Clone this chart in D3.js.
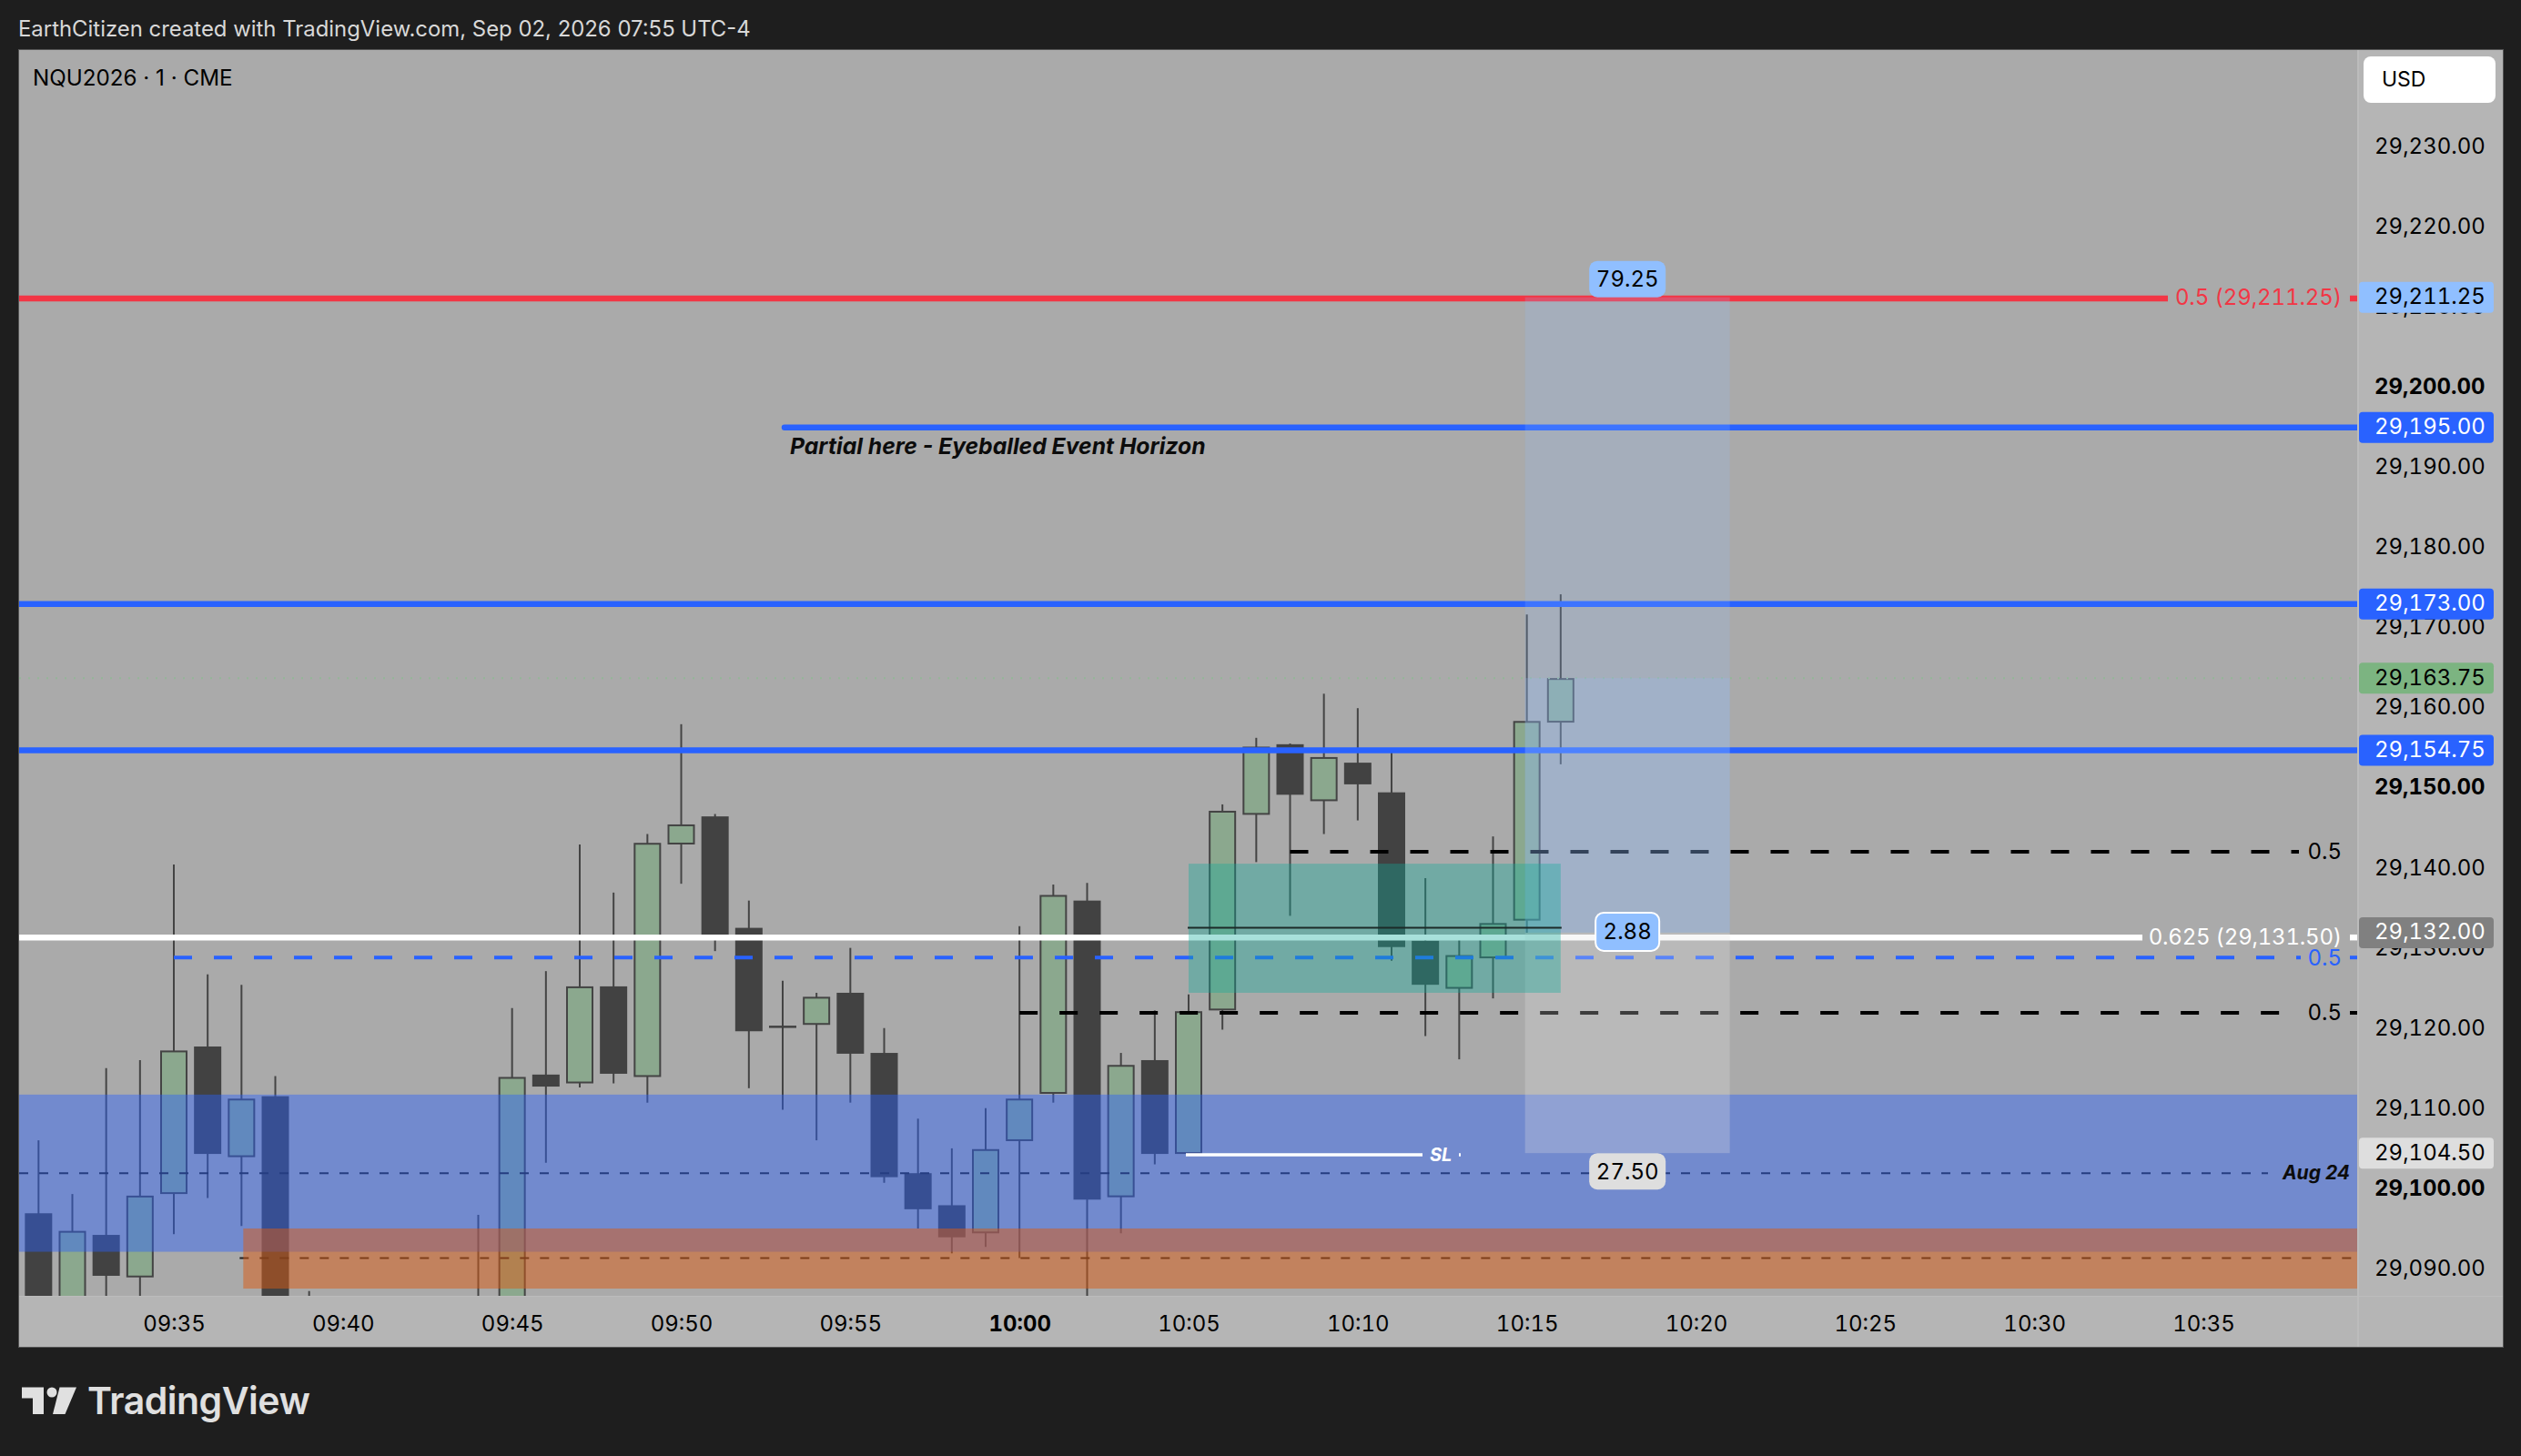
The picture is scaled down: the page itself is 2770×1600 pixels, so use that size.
<!DOCTYPE html>
<html>
<head>
<meta charset="utf-8">
<script src="https://d3js.org/d3.v7.min.js"></script>
<style>
    html, body { margin: 0; padding: 0; background: #1e1e1e; }
    svg { display: block; }
    text { font-family: Inter, "Noto Sans", sans-serif; }
    .axis text, .tag text, .num { font-variant-numeric: tabular-nums; }
</style>
</head>
<body>
<div id="chart"></div>
<script>
// 1 minute bars. 09:40 - 09:43 sit completely below the visible pane so they are left out
var bar_times = ["09:31", "09:32", "09:33", "09:34", "09:35", "09:36", "09:37", "09:38", "09:39",
    "09:44", "09:45", "09:46", "09:47", "09:48", "09:49", "09:50", "09:51", "09:52", "09:53", "09:54",
    "09:55", "09:56", "09:57", "09:58", "09:59", "10:00", "10:01", "10:02", "10:03", "10:04", "10:05",
    "10:06", "10:07", "10:08", "10:09", "10:10", "10:11", "10:12", "10:13", "10:14", "10:15", "10:16"];
var bar_open = [29097.0, 29084.0, 29094.3, 29089.0, 29099.4, 29117.8, 29104.0, 29111.6, 29084.0,
    29084.0, 29084.0, 29114.3, 29113.2, 29125.3, 29114.0, 29143.0, 29146.5, 29132.6, 29120.4, 29120.5,
    29124.5, 29117.0, 29102.0, 29098.0, 29094.5, 29106.0, 29111.9, 29136.0, 29099.0, 29116.1, 29104.4,
    29122.3, 29146.7, 29155.5, 29148.4, 29153.2, 29149.5, 29131.0, 29125.0, 29128.8, 29133.5, 29158.2];
var bar_high = [29106.1, 29099.4, 29115.1, 29116.1, 29140.5, 29126.8, 29125.5, 29114.1, 29087.3,
    29096.8, 29122.6, 29127.2, 29143.0, 29137.0, 29144.3, 29158.0, 29146.8, 29136.0, 29126.0, 29124.5,
    29130.1, 29120.1, 29108.8, 29105.1, 29110.1, 29132.8, 29138.0, 29138.2, 29117.0, 29122.3, 29124.3,
    29148.0, 29156.3, 29155.6, 29161.8, 29160.0, 29155.0, 29138.8, 29131.1, 29144.0, 29171.7, 29174.2];
var bar_low = [29080.0, 29082.0, 29084.0, 29084.0, 29094.4, 29098.9, 29095.4, 29080.0, 29080.0,
    29080.0, 29082.0, 29103.3, 29112.7, 29113.2, 29110.8, 29138.1, 29129.7, 29112.6, 29109.9, 29106.1,
    29110.8, 29100.8, 29095.1, 29092.0, 29092.8, 29091.4, 29110.8, 29084.0, 29094.5, 29103.1, 29104.4,
    29119.9, 29140.8, 29134.1, 29144.3, 29146.0, 29128.5, 29119.1, 29116.2, 29123.8, 29132.0, 29153.0];
var bar_close = [29082.0, 29094.8, 29089.2, 29099.2, 29117.3, 29104.4, 29111.3, 29082.0, 29082.0,
    29082.0, 29114.0, 29112.8, 29125.3, 29114.4, 29143.2, 29145.5, 29131.2, 29119.7, 29120.2, 29124.0,
    29116.9, 29101.5, 29097.5, 29094.0, 29105.0, 29111.3, 29136.7, 29098.7, 29115.5, 29104.4, 29122.2,
    29147.2, 29155.2, 29149.2, 29153.9, 29150.5, 29130.2, 29125.5, 29129.2, 29133.2, 29158.4, 29163.75];

var price_ticks = [29230, 29220, 29210, 29200, 29190, 29180, 29170, 29160, 29150, 29140, 29130, 29120, 29110, 29100, 29090];
var time_ticks = ["09:35", "09:40", "09:45", "09:50", "09:55", "10:00", "10:05", "10:10", "10:15", "10:20", "10:25", "10:30", "10:35"];

// drawn levels
var solid_blue_levels = [29173, 29154.75];
var partial_level = 29195;
var partial_start = "09:53";
var red_level = 29211.1;
var white_level = 29131.4;
var blue_dash_level = 29128.9;
var blue_dash_start = "09:35";
var black_dash_levels = [29142.1, 29122.0];
var black_dash_starts = ["10:08", "10:00"];
var thin_dash_levels = [29102.0, 29091.4];
var current_price = 29163.75;
var sl_level = 29104.3;
var sl_times = ["10:05", "10:12"];

// zones
var blue_zone = [29111.8, 29092.2];
var orange_zone = [29095.1, 29087.6];
var orange_start = "09:37";
var teal_zone = [29140.6, 29124.5];
var teal_times = ["10:05", "10:16"];
var teal_mid = 29132.6;

// long position tool
var position_prices = [29211.25, 29132, 29104.5];
var position_times = ["10:15", "10:21"];

// price axis tags
var tag_prices = [29211.25, 29195, 29173, 29163.75, 29154.75, 29132, 29104.5];
var tag_fills = ["#90bfff", "#2962ff", "#2962ff", "#7cb481", "#2962ff", "#808080", "#dedede"];
var tag_text = ["#000", "#fff", "#fff", "#000", "#fff", "#fff", "#000"];

var width = 2770, height = 1600;
var pane = {left: 21, top: 55, right: 2590, bottom: 1424, outer_right: 2750, outer_bottom: 1480};
var font_size = 24;

function mins(t) {
    var p = t.split(":");
    return +p[0] * 60 + +p[1];
}

function label_time(m) {
    return d3.format("02")(Math.floor(m / 60)) + ":" + d3.format("02")(m % 60);
}

var x = d3.scaleLinear().domain([mins("09:35"), mins("10:35")]).range([191, 2421]);
var y = d3.scaleLinear().domain([29242.2, 29086.7]).range([54, pane.bottom]);

var svg = d3.select("#chart").append("svg").attr("width", width).attr("height", height);

svg.append("rect").attr("width", width).attr("height", height).attr("fill", "#1e1e1e");

svg.append("text")
    .attr("x", 20).attr("y", 40)
    .attr("fill", "#d8d8d8")
    .style("font-size", "23.9px")
    .text("EarthCitizen created with TradingView.com, Sep 02, 2026 07:55 UTC-4");

// frame, axis strips and pane
svg.append("rect")
    .attr("x", pane.left - 0.5).attr("y", pane.top - 0.5)
    .attr("width", pane.outer_right - pane.left + 1).attr("height", pane.outer_bottom - pane.top + 1)
    .attr("fill", "#b5b5b5").attr("stroke", "#555").attr("stroke-width", 1);
svg.append("rect")
    .attr("x", pane.left).attr("y", pane.top)
    .attr("width", pane.right - pane.left).attr("height", pane.bottom - pane.top)
    .attr("fill", "#aaaaaa");
svg.append("line")
    .attr("x1", pane.right + 1).attr("x2", pane.right + 1)
    .attr("y1", pane.top).attr("y2", pane.outer_bottom)
    .attr("stroke", "#bcbcbc").attr("stroke-width", 2);
svg.append("line")
    .attr("x1", pane.left).attr("x2", pane.outer_right)
    .attr("y1", pane.bottom + 0.5).attr("y2", pane.bottom + 0.5)
    .attr("stroke", "#bcbcbc").attr("stroke-width", 1);

svg.append("clipPath").attr("id", "pane_clip")
    .append("rect")
    .attr("x", pane.left).attr("y", pane.top)
    .attr("width", pane.right - pane.left).attr("height", pane.bottom - pane.top);

var plot = svg.append("g").attr("clip-path", "url(#pane_clip)");

// Candles
var bars = bar_times.map(function(t, i) {
    return {t: mins(t), o: bar_open[i], h: bar_high[i], l: bar_low[i], c: bar_close[i]};
});
var bar_g = plot.selectAll(".bar").data(bars).enter().append("g").attr("class", "bar");
bar_g.append("line")
    .attr("x1", function(d) { return x(d.t); })
    .attr("x2", function(d) { return x(d.t); })
    .attr("y1", function(d) { return y(d.h); })
    .attr("y2", function(d) { return y(d.l); })
    .attr("stroke", "#444").attr("stroke-width", 2);
bar_g.append("rect")
    .attr("x", function(d) { return x(d.t) - 14; })
    .attr("width", 28)
    .attr("y", function(d) { return y(Math.max(d.o, d.c)) + 1; })
    .attr("height", function(d) { return Math.max(y(Math.min(d.o, d.c)) - y(Math.max(d.o, d.c)) - 2, 0.5); })
    .attr("fill", function(d) { return d.c >= d.o ? "#8ba88e" : "#424242"; })
    .attr("stroke", function(d) { return d.c >= d.o ? "#444" : "#424242"; })
    .attr("stroke-width", 2);

function hline(price, x1, x2, color, w, dash, cap) {
    return plot.append("line")
        .attr("x1", x1).attr("x2", x2)
        .attr("y1", y(price)).attr("y2", y(price))
        .attr("stroke", color).attr("stroke-width", w)
        .attr("stroke-dasharray", dash || null)
        .attr("stroke-linecap", cap || "butt");
}

function line_label(price, txt, x_end, color, spacing) {
    return svg.append("text")
        .attr("class", "num")
        .attr("x", x_end).attr("y", y(price) + 8.5)
        .attr("text-anchor", "end")
        .attr("fill", color)
        .style("font-size", font_size + "px")
        .style("letter-spacing", (spacing || 0) + "px")
        .text(txt);
}

// Levels
hline(current_price, pane.left, pane.right, "#94b698", 2, "2 8");
thin_dash_levels.forEach(function(p, i) {
    if (i == 0) hline(p, pane.left, 2492, "#222", 2, "10 12");
    else hline(p, x(mins(orange_start)) - 2, 2585, "#222", 2, "10 12");
});
hline(red_level, pane.left, 2382, "#f23645", 6.5);
hline(red_level, 2582, pane.right, "#f23645", 6.5);
hline(partial_level, x(mins(partial_start)) + 2, pane.right, "#2962ff", 6.5, null, "round");
solid_blue_levels.forEach(function(p) {
    hline(p, pane.left, pane.right, "#2962ff", 6.5);
});
hline(white_level, pane.left, 2354, "#fff", 6.5);
hline(white_level, 2582, pane.right, "#fff", 6.5);
hline(blue_dash_level, x(mins(blue_dash_start)), 2528, "#2962ff", 4, "20 24");
hline(blue_dash_level, 2582, pane.right, "#2962ff", 4);
hline(black_dash_levels[0], x(mins(black_dash_starts[0])), 2526, "#000", 4, "20 24");
hline(black_dash_levels[1], x(mins(black_dash_starts[1])), 2505, "#000", 4, "20 24");
hline(black_dash_levels[1], 2582, pane.right, "#000", 4);

// Zones sit over the candles
plot.append("rect")
    .attr("x", pane.left).attr("width", pane.right - pane.left)
    .attr("y", y(blue_zone[0])).attr("height", y(blue_zone[1]) - y(blue_zone[0]))
    .attr("fill", "#2962ff").attr("fill-opacity", 0.43);
plot.append("rect")
    .attr("x", x(mins(orange_start)) + 2).attr("width", pane.right - x(mins(orange_start)) - 2)
    .attr("y", y(orange_zone[0])).attr("height", y(orange_zone[1]) - y(orange_zone[0]))
    .attr("fill", "rgb(218,90,18)").attr("fill-opacity", 0.5);

// Position tool
var pos_x = x(mins(position_times[0])) - 2;
var pos_w = x(mins(position_times[1])) - pos_x;
plot.append("rect")
    .attr("x", pos_x).attr("width", pos_w)
    .attr("y", y(position_prices[0])).attr("height", y(position_prices[1]) - y(position_prices[0]))
    .attr("fill", "#90bfff").attr("fill-opacity", 0.2);
plot.append("rect")
    .attr("x", pos_x).attr("width", pos_w)
    .attr("y", y(current_price)).attr("height", y(position_prices[1]) - y(current_price))
    .attr("fill", "#90bfff").attr("fill-opacity", 0.2);
plot.append("rect")
    .attr("x", pos_x).attr("width", pos_w)
    .attr("y", y(position_prices[1])).attr("height", y(position_prices[2]) - y(position_prices[1]))
    .attr("fill", "#e0e0e0").attr("fill-opacity", 0.27);

// Teal box with its mid line
plot.append("rect")
    .attr("x", x(mins(teal_times[0]))).attr("width", x(mins(teal_times[1])) - x(mins(teal_times[0])))
    .attr("y", y(teal_zone[0])).attr("height", y(teal_zone[1]) - y(teal_zone[0]))
    .attr("fill", "rgb(15,172,155)").attr("fill-opacity", 0.36);
hline(teal_mid, x(mins(teal_times[0])) - 1, x(mins(teal_times[1])) + 1, "#1c2a28", 2);

// SL marker
hline(sl_level, x(mins(sl_times[0])) - 3, 1563, "#fff", 3.5);
hline(sl_level, 1603, 1605, "#fff", 3.5);
svg.append("text")
    .attr("x", 1571).attr("y", y(sl_level) + 7)
    .attr("fill", "#fff").attr("font-weight", 700).attr("font-style", "italic")
    .style("font-size", "20px")
    .text("SL");

// Text on the levels
svg.append("text")
    .attr("x", 868).attr("y", y(partial_level) + 29)
    .attr("fill", "#0c0c0c").attr("font-weight", 700).attr("font-style", "italic")
    .style("font-size", "24.7px")
    .text("Partial here - Eyeballed Event Horizon");
line_label(29211.25, "0.5 (29,211.25)", 2573, "#f23645", -0.1);
line_label(29131.5, "0.625 (29,131.50)", 2573, "#ffffff", -0.2);
line_label(blue_dash_level, "0.5", 2573, "#2962ff");
line_label(black_dash_levels[0], "0.5", 2573, "#000");
line_label(black_dash_levels[1], "0.5", 2573, "#000");
svg.append("text")
    .attr("x", 2582).attr("y", y(thin_dash_levels[0]) + 7)
    .attr("text-anchor", "end")
    .attr("fill", "#0c0c0c").attr("font-weight", 700).attr("font-style", "italic")
    .style("font-size", "21px")
    .text("Aug 24");

// Position badges
function badge(cx, cy, w, h, txt, fill, stroke) {
    svg.append("rect")
        .attr("x", cx - w / 2).attr("y", cy - h / 2)
        .attr("width", w).attr("height", h).attr("rx", 9)
        .attr("fill", fill)
        .attr("stroke", stroke || "none").attr("stroke-width", 2);
    svg.append("text")
        .attr("class", "num")
        .attr("x", cx).attr("y", cy + 8.5)
        .attr("text-anchor", "middle").attr("fill", "#000")
        .style("font-size", font_size + "px")
        .text(txt);
}
var badge_x = pos_x + pos_w / 2;
badge(badge_x, y(position_prices[0]) - 20, 84, 40, "79.25", "#90bfff");
badge(badge_x, y(position_prices[1]) - 1, 70, 42, "2.88", "#90bfff", "#fff");
badge(badge_x, y(position_prices[2]) + 20, 84, 40, "27.50", "#dedede");

// Axes
var price_axis = d3.axisRight(y)
    .tickValues(price_ticks)
    .tickSize(0)
    .tickPadding(19)
    .tickFormat(d3.format(",.2f"));
var gy = svg.append("g")
    .attr("class", "axis")
    .attr("transform", "translate(" + pane.right + ",0)")
    .call(price_axis);
gy.select(".domain").remove();
gy.selectAll("text")
    .attr("fill", "#000")
    .attr("y", -1)
    .attr("font-weight", function(d) { return d % 50 == 0 ? 700 : 400; })
    .style("font-size", font_size + "px");

var time_axis = d3.axisBottom(x)
    .tickValues(time_ticks.map(mins))
    .tickSize(0)
    .tickPadding(22)
    .tickFormat(label_time);
var gx = svg.append("g")
    .attr("class", "axis")
    .attr("transform", "translate(0," + pane.bottom + ")")
    .call(time_axis);
gx.select(".domain").remove();
gx.selectAll("text")
    .attr("fill", "#000")
    .attr("font-weight", function(d) { return d == mins("10:00") ? 700 : 400; })
    .style("font-size", font_size + "px");

// Price tags
var tag_g = svg.selectAll(".tag").data(tag_prices).enter().append("g").attr("class", "tag");
tag_g.append("rect")
    .attr("x", pane.right + 2).attr("width", 148)
    .attr("y", function(d) { return y(d) - 17; })
    .attr("height", 34).attr("rx", 4)
    .attr("fill", function(d, i) { return tag_fills[i]; });
tag_g.append("text")
    .attr("x", pane.right + 19)
    .attr("y", function(d) { return y(d) + 7.5; })
    .attr("fill", function(d, i) { return tag_text[i]; })
    .style("font-size", font_size + "px")
    .text(d3.format(",.2f"));

// USD button
svg.append("rect")
    .attr("x", 2597).attr("y", 62).attr("width", 145).attr("height", 51).attr("rx", 8)
    .attr("fill", "#fff");
svg.append("text")
    .attr("x", 2617).attr("y", 95)
    .attr("fill", "#000")
    .style("font-size", "23px")
    .text("USD");

// Symbol title
svg.append("text")
    .attr("x", 36).attr("y", 94)
    .attr("fill", "#000")
    .style("font-size", "24.2px")
    .text("NQU2026 · 1 · CME");

// Logo
var logo = svg.append("g").attr("fill", "#e0e0e0");
logo.append("path").attr("d", "M24 1524.5H48V1554H36V1536.5H24Z");
logo.append("circle").attr("cx", 57).attr("cy", 1530).attr("r", 5.5);
logo.append("path").attr("d", "M65.5 1524.5H84L71.5 1554H58Z");
logo.append("text")
    .attr("x", 96).attr("y", 1554)
    .attr("font-weight", 600)
    .style("font-size", "41px")
    .style("letter-spacing", "-0.5px")
    .text("TradingView");
</script>
</body>
</html>
